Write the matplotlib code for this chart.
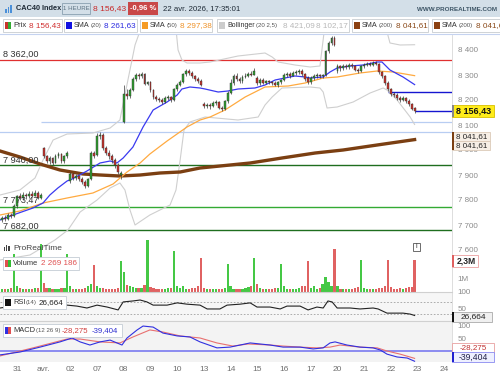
import numpy as np
import matplotlib
matplotlib.use('Agg')
import matplotlib.pyplot as plt
from matplotlib.patches import Rectangle

plt.rcParams['font.family'] = ['Liberation Sans', 'DejaVu Sans']

# hourly candles, 30 mars (end) -> 22 avr. 2026
opens = [7722, 7730, 7726, 7742, 7738,
         7775, 7815, 7808, 7822, 7815, 7825, 7818, 7830, 7810,
         8008, 7975, 7955, 7968, 7950, 7978, 7985, 7955, 7975,
         7875, 7905, 7890, 7898, 7885, 7872, 7858, 7885, 7990,
         7980, 8055, 8062, 8010, 7990, 7975, 7960, 7940, 7900,
         8112, 8225, 8215, 8240, 8285, 8300, 8295, 8305, 8265,
         8272, 8240, 8212, 8205, 8200, 8192, 8210, 8212, 8200,
         8245, 8262, 8272, 8305, 8318, 8310, 8295, 8285, 8278,
         8185, 8178, 8182, 8175, 8188, 8192, 8170, 8165, 8195,
         8228, 8270, 8295, 8285, 8275, 8292, 8298, 8305, 8302,
         8290, 8268, 8282, 8270, 8276, 8272, 8268, 8262, 8272,
         8282, 8300, 8305, 8298, 8308, 8312, 8318, 8305, 8288,
         8272, 8288, 8295, 8300, 8296, 8300, 8395, 8428, 8450,
         8318, 8335, 8328, 8338, 8332, 8340, 8335, 8322, 8318,
         8335, 8340, 8345, 8342, 8350, 8346, 8312, 8295, 8270,
         8245, 8225, 8222, 8210, 8200, 8210, 8198, 8185, 8168]
closes = [7730, 7726, 7742, 7738, 7775,
          7815, 7808, 7822, 7815, 7825, 7818, 7830, 7810, 7822,
          7975, 7955, 7968, 7950, 7978, 7985, 7955, 7975, 7990,
          7905, 7890, 7898, 7885, 7872, 7858, 7885, 7990, 7978,
          8055, 8060, 8010, 7990, 7975, 7960, 7940, 7912, 7908,
          8225, 8215, 8240, 8285, 8300, 8295, 8305, 8265, 8272,
          8240, 8212, 8205, 8200, 8192, 8210, 8212, 8200, 8245,
          8262, 8272, 8305, 8318, 8310, 8295, 8285, 8278, 8262,
          8178, 8182, 8175, 8188, 8192, 8170, 8165, 8195, 8228,
          8270, 8295, 8285, 8275, 8292, 8298, 8305, 8302, 8318,
          8268, 8282, 8270, 8276, 8272, 8268, 8262, 8272, 8282,
          8300, 8305, 8298, 8308, 8312, 8318, 8305, 8285, 8272,
          8288, 8295, 8300, 8296, 8300, 8395, 8428, 8448, 8422,
          8335, 8328, 8338, 8332, 8340, 8335, 8322, 8318, 8335,
          8340, 8345, 8342, 8350, 8346, 8312, 8295, 8270, 8245,
          8225, 8222, 8210, 8200, 8210, 8198, 8185, 8165, 8156.43]
highs = [7738, 7740, 7748, 7750, 7785,
         7822, 7830, 7832, 7830, 7835, 7838, 7842, 7835, 7828,
         8012, 7982, 7975, 7972, 7985, 7992, 7990, 7982, 7998,
         7912, 7910, 7905, 7902, 7892, 7880, 7890, 7995, 7998,
         8068, 8072, 8068, 8018, 8000, 7985, 7968, 7948, 7915,
         8262, 8245, 8250, 8292, 8310, 8310, 8312, 8310, 8278,
         8275, 8245, 8220, 8212, 8208, 8215, 8220, 8216, 8250,
         8270, 8280, 8310, 8325, 8326, 8318, 8300, 8292, 8285,
         8192, 8190, 8188, 8195, 8200, 8196, 8178, 8200, 8235,
         8285, 8305, 8308, 8292, 8300, 8308, 8312, 8318, 8330,
         8295, 8288, 8290, 8282, 8282, 8278, 8275, 8278, 8286,
         8310, 8312, 8312, 8315, 8320, 8326, 8324, 8310, 8295,
         8295, 8305, 8308, 8306, 8305, 8400, 8436, 8456, 8455,
         8345, 8342, 8345, 8344, 8348, 8350, 8342, 8330, 8340,
         8350, 8352, 8352, 8358, 8358, 8350, 8318, 8300, 8275,
         8250, 8232, 8228, 8215, 8216, 8214, 8205, 8190, 8172]
lows = [7712, 7716, 7720, 7730, 7734,
        7770, 7800, 7800, 7805, 7810, 7812, 7815, 7805, 7805,
        7968, 7948, 7945, 7940, 7948, 7970, 7948, 7950, 7970,
        7868, 7882, 7880, 7876, 7865, 7850, 7852, 7880, 7970,
        7975, 8045, 8000, 7980, 7965, 7950, 7928, 7905, 7885,
        8108, 8205, 8208, 8235, 8278, 8285, 8288, 8260, 8260,
        8232, 8205, 8198, 8192, 8185, 8188, 8202, 8192, 8195,
        8235, 8255, 8268, 8298, 8302, 8288, 8278, 8268, 8258,
        8168, 8170, 8166, 8172, 8180, 8164, 8158, 8160, 8190,
        8225, 8262, 8278, 8268, 8270, 8288, 8292, 8296, 8300,
        8262, 8262, 8265, 8266, 8265, 8262, 8255, 8252, 8266,
        8278, 8292, 8290, 8295, 8302, 8306, 8298, 8278, 8265,
        8265, 8282, 8288, 8288, 8290, 8296, 8388, 8420, 8418,
        8308, 8318, 8322, 8325, 8326, 8328, 8315, 8310, 8312,
        8328, 8335, 8336, 8338, 8340, 8305, 8288, 8262, 8238,
        8215, 8212, 8200, 8192, 8195, 8190, 8178, 8160, 8150]
# volume in millions
volumes = [0.22, 0.18, 0.25, 0.30, 2.70,
           0.45, 0.30, 0.20, 0.18, 0.22, 0.20, 0.28, 0.30, 3.40,
           0.65, 0.30, 0.28, 0.22, 0.18, 0.25, 0.30, 0.32, 2.70,
           0.40, 0.25, 0.22, 0.20, 0.25, 0.30, 0.45, 0.55, 1.90,
           0.45, 0.30, 0.28, 0.22, 0.20, 0.25, 0.22, 0.28, 2.20,
           1.40, 0.50, 0.40, 0.35, 0.30, 0.28, 0.32, 0.50, 3.75,
           0.36, 0.28, 0.20, 0.18, 0.22, 0.20, 0.30, 0.28, 2.90,
           0.40, 0.30, 0.45, 0.22, 0.20, 0.28, 0.30, 0.40, 2.40,
           0.30, 0.22, 0.20, 0.18, 0.22, 0.25, 0.20, 0.30, 2.00,
           0.40, 0.25, 0.22, 0.20, 0.25, 0.28, 0.35, 0.42, 2.45,
           0.55, 0.28, 0.22, 0.20, 0.18, 0.22, 0.30, 0.28, 2.00,
           0.40, 0.25, 0.22, 0.20, 0.25, 0.28, 0.40, 0.42, 2.25,
           0.30, 0.40, 0.25, 0.30, 0.60, 1.05, 0.70, 0.40, 3.10,
           0.42, 0.25, 0.20, 0.18, 0.22, 0.25, 0.30, 0.35, 2.30,
           0.30, 0.22, 0.20, 0.18, 0.25, 0.28, 0.30, 0.42, 2.30,
           0.35, 0.25, 0.22, 0.30, 0.25, 0.30, 0.35, 0.33, 2.27]

day_labels = ['31', 'avr.', '02', '07', '08', '09', '10', '13', '14',
              '15', '16', '17', '20', '21', '22', '23', '24']
day_pos = [5 + 9 * k for k in range(len(day_labels))]

# indicator lines (candle index, value)
sma20_x = [-0.7, 3.7, 10.4, 13.8, 16.1, 18.8, 21.9, 23.6, 28.6, 33.0, 36.4, 38.7, 40.8, 44.1, 47.5,
           50.9, 55.6, 59.0, 60.6, 63.3, 66.7, 68.4, 72.8, 76.1, 79.5, 85.2, 88.6, 92.0, 95.3,
           98.7, 102.1, 103.8, 108.2, 110.5, 112.9, 117.3, 121.6, 126.4, 128.0, 130.7, 135.1, 139]
sma20_y = [7720, 7740, 7768, 7788, 7820, 7848, 7876, 7884, 7916, 7948, 7956, 7948, 7968, 8012, 8092,
           8160, 8192, 8220, 8244, 8252, 8248, 8244, 8232, 8236, 8244, 8248, 8260, 8280, 8288,
           8296, 8292, 8288, 8292, 8312, 8328, 8336, 8340, 8352, 8352, 8320, 8292, 8261.63]
sma50_x = [-0.7, 6.0, 13.8, 21.9, 30.6, 37.4, 42.1, 46.5, 49.8, 55.6, 62.3, 66.7, 70.1, 75.1,
           81.9, 88.6, 96.4, 102.1, 108.2, 112.9, 120.6, 126.4, 131.8, 139]
sma50_y = [7740, 7756, 7788, 7808, 7828, 7864, 7912, 7948, 7984, 8036, 8092, 8120, 8132, 8160,
           8212, 8252, 8256, 8268, 8288, 8292, 8308, 8316, 8312, 8297.38]
sma200_x = [-0.7, 6.0, 12.8, 19.5, 27.3, 33.0, 39.7, 46.5, 53.2, 60.0, 66.7, 83.6, 94.3, 105.5,
            114.9, 126.4, 139]
sma200_y = [7996, 7972, 7944, 7920, 7904, 7900, 7896, 7900, 7908, 7912, 7928, 7948, 7968, 7988,
            8000, 8020, 8041.61]
boll_up_x = [-0.7, 6.0, 11.1, 13.8, 17.2, 21.9, 30.6, 36.4, 39.7, 42.4, 44.8, 47.2, 53.2, 58.3,
             59.3, 60.6, 62.3, 66.7, 70.1, 79.5, 88.6, 91.0, 93.0, 98.7, 103.8, 107.1, 108.8,
             113.9, 124.0, 129.1, 130.7, 134.1, 139]
boll_up_y = [7820, 7840, 7888, 7960, 8040, 8064, 8068, 8088, 8120, 8280, 8420, 8500, 8540, 8520,
             8400, 8360, 8348, 8348, 8352, 8376, 8388, 8372, 8352, 8340, 8332, 8336, 8500,
             8560, 8560, 8500, 8428, 8420, 8421.09]
boll_lo_x = [-0.7, 9.4, 17.8, 22.2, 26.3, 32.0, 36.4, 39.7, 41.4, 43.1, 44.8, 49.8, 56.6, 58.6,
             60.0, 61.3, 63.3, 68.4, 79.5, 86.3, 88.6, 91.0, 94.3, 103.8, 107.1, 108.2, 109.5,
             112.9, 118.3, 124.0, 128.4, 129.7, 133.1, 137.5, 139]
boll_lo_y = [7560, 7580, 7640, 7680, 7752, 7800, 7848, 7868, 7840, 7760, 7700, 7740, 7780, 7840,
             7960, 8080, 8112, 8132, 8120, 8132, 8180, 8212, 8248, 8252, 8248, 8232, 8168,
             8172, 8192, 8228, 8248, 8240, 8200, 8132, 8102.17]
rsi_x = [-0.7, 6.0, 12.8, 21.9, 25.2, 28.6, 32.0, 35.4, 39.1, 40.8, 44.1, 46.5, 48.8, 50.9, 55.6,
         59.0, 62.3, 66.7, 69.1, 73.4, 75.8, 80.2, 83.6, 85.9, 90.3, 93.7, 96.0, 100.4, 103.1,
         106.1, 108.2, 109.8, 111.2, 112.9, 117.3, 120.6, 125.0, 126.7, 129.7, 133.1, 135.1,
         137.5, 139]
rsi_y = [50, 59, 66, 59, 56, 50, 59, 53, 44, 69, 72, 75, 69, 59, 59,
         66, 62, 59, 47, 47, 59, 62, 66, 53, 53, 47, 56, 56, 44,
         53, 50, 72, 69, 50, 50, 47, 50, 47, 34, 34, 34,
         31, 26.664]
macd_x = [-0.7, 6.0, 12.8, 19.5, 23.6, 26.3, 29.6, 33.0, 36.4, 40.4, 42.1, 45.5, 47.5, 50.9, 54.2,
          59.0, 63.3, 66.7, 72.4, 76.8, 80.2, 83.6, 90.3, 94.7, 100.4, 104.8, 108.2, 110.5,
          112.2, 116.2, 120.6, 125.0, 127.4, 129.7, 133.1, 136.5, 139]
macd_y = [-15, -4, 15, 35, 50, 35, 23, 35, 42, 23, 50, 81, 96, 92, 69,
          58, 54, 35, 12, 15, 23, 31, 23, 15, 15, 8, 12, 31,
          35, 23, 15, 12, 4, -12, -23, -27, -39.404]
signal_x = [-0.7, 10.4, 21.9, 26.3, 33.0, 39.7, 44.1, 49.8, 54.2, 60.0, 66.7, 72.4, 77.8, 82.9,
            90.3, 94.7, 100.4, 106.1, 110.5, 113.9, 120.6, 126.4, 129.7, 134.1, 139]
signal_y = [-19, 12, 46, 46, 35, 31, 54, 81, 73, 58, 50, 31, 19, 27,
            23, 19, 15, 12, 15, 23, 15, 12, 0, -12, -28.275]

W, H = 500, 375
GREEN = '#2f9e2f'
RED = '#c8322c'


def px_axes(fig, x0, y0, x1, y1):
    return fig.add_axes([x0 / W, 1 - y1 / H, (x1 - x0) / W, (y1 - y0) / H])


def box(fig, x0, y0, x1, y1, fc='white', ec='#c8ccd0', lw=0.6):
    fig.add_artist(Rectangle((x0 / W, 1 - y1 / H), (x1 - x0) / W, (y1 - y0) / H,
                             transform=fig.transFigure, fc=fc, ec=ec, lw=lw))


def txt(fig, x, y, s, size=5.9, color='#333333', **kw):
    fig.text(x / W, 1 - y / H, s, size=size, color=color, va='center', **kw)


def clean(ax, bg):
    ax.set_facecolor(bg)
    for s in ax.spines.values():
        s.set_visible(False)
    ax.spines['right'].set_visible(True)
    ax.spines['right'].set_color('#d8d8d8')
    ax.spines['right'].set_linewidth(0.6)
    ax.yaxis.tick_right()
    ax.tick_params(axis='y', length=0, labelsize=5.8, labelcolor='#8a8a8a', pad=4)
    ax.tick_params(axis='x', length=0)
    ax.set_xlim(-0.7, 151.6)


if __name__ == "__main__":
    fig = plt.figure(figsize=(W / 100, H / 100), dpi=100)
    o = np.array(opens, dtype=float)
    c = np.array(closes, dtype=float)
    hi = np.array(highs, dtype=float)
    lo = np.array(lows, dtype=float)
    idx = np.arange(len(c))
    up = c >= o

    # ---- price panel
    ax = px_axes(fig, 0, 35, 452, 292)
    clean(ax, 'white')
    ax.set_ylim(7432, 8460)
    ticks = [7600, 7700, 7800, 7900, 8000, 8100, 8200, 8300, 8400]
    ax.set_yticks(ticks)
    ax.set_yticklabels([f'{t:,}'.replace(',', ' ') for t in ticks])
    ax.set_xticks([])

    # horizontal levels
    ax.axhline(8362, color='#e03030', lw=0.9, zorder=1)
    ax.axhline(8072, color='#b8cdf2', lw=0.9, zorder=1)
    ax.hlines(8112, 13, 151.6, color='#b8cdf2', lw=0.9, zorder=1)
    ax.axhline(7940, color='#1f6e1f', lw=1.0, zorder=1)
    ax.axhline(7773.47, color='#33aa33', lw=1.0, zorder=1)
    ax.axhline(7682, color='#1f6e1f', lw=1.0, zorder=1)
    ax.hlines(8232, 130, 151.6, color='#1515d0', lw=1.0, zorder=1)
    ax.hlines(8156.43, 139, 151.6, color='#1515d0', lw=1.0, zorder=1)

    # volume overlay
    axv = px_axes(fig, 0, 35, 452, 292)
    axv.patch.set_visible(False)
    for s in axv.spines.values():
        s.set_visible(False)
    axv.set_xlim(-0.7, 151.6)
    axv.set_ylim(0, 18.36)
    axv.yaxis.tick_right()
    axv.set_yticks([1])
    axv.set_yticklabels(['1M'])
    axv.tick_params(axis='y', length=0, labelsize=5.8, labelcolor='#8a8a8a', pad=4)
    axv.set_xticks([])
    axv.bar(idx, volumes, width=0.75, color=np.where(up, '#45c845', '#e06262'), lw=0)

    # indicators
    ax.plot(boll_up_x, boll_up_y, color='#cfcfcf', lw=0.8, zorder=2)
    ax.plot(boll_lo_x, boll_lo_y, color='#cfcfcf', lw=0.8, zorder=2)
    ax.plot(sma200_x, sma200_y, color='#7b3f12', lw=2.4, zorder=2)
    ax.plot(sma50_x, sma50_y, color='#ffaa40', lw=0.9, zorder=3)
    ax.plot(sma20_x, sma20_y, color='#3a3af0', lw=0.9, zorder=3)

    # candles
    ax.vlines(idx, lo, hi, color='#3a3a3a', lw=0.5, zorder=4)
    body = np.maximum(np.abs(c - o), 2)
    ax.bar(idx, body, bottom=np.minimum(o, c), width=0.62,
           color=np.where(up, GREEN, RED), edgecolor='#303030', lw=0.3, zorder=5)

    # ---- RSI panel
    axr = px_axes(fig, 0, 292, 452, 321)
    clean(axr, '#f6f6f6')
    axr.spines['top'].set_visible(True)
    axr.spines['top'].set_color('#d0d0d0')
    axr.set_ylim(9.4, 100)
    axr.set_yticks([50, 100])
    axr.set_xticks([])
    for lvl in (70, 30):
        axr.axhline(lvl, color='#a0a0a0', lw=0.6, ls=(0, (2, 2)))
    axr.plot(rsi_x, rsi_y, color='#222222', lw=0.8)

    # ---- MACD panel
    axm = px_axes(fig, 0, 321, 452, 362)
    clean(axm, '#f3f3f3')
    axm.spines['top'].set_visible(True)
    axm.spines['top'].set_color('#d0d0d0')
    axm.set_ylim(-42.3, 115.4)
    axm.set_yticks([50, 100])
    axm.axhline(0, color='#8c8cf0', lw=1.4)
    axm.plot(signal_x, signal_y, color='#e87070', lw=0.8)
    axm.plot(macd_x, macd_y, color='#3030e0', lw=0.8)
    axm.set_xticks(day_pos)
    axm.set_xticklabels(day_labels)
    axm.tick_params(axis='x', labelsize=6, labelcolor='#707070', pad=3)

    # ---- header
    box(fig, 0, 0, 500, 17, fc='#d3dfe8', ec='none')
    for k, hgt in enumerate([4, 6, 8]):
        box(fig, 5 + k * 2.5, 13 - hgt, 6.5 + k * 2.5, 13, fc='#4a90d9', ec='none')
    txt(fig, 16, 8.5, 'CAC40 Index', size=5.3, color='#1e2a36', weight='bold')
    box(fig, 62, 3, 90, 14, fc='none', ec='#8aa0b0')
    txt(fig, 76, 8.5, '1 HEURE', size=4.4, color='#5a7080', ha='center')
    txt(fig, 93, 8.5, '8 156,43', size=6.1, color='#c82828')
    box(fig, 128, 2, 158, 15, fc='#c94848', ec='none')
    txt(fig, 143, 8.5, '-0,96 %', size=5.5, color='white', weight='bold', ha='center')
    txt(fig, 163, 8.5, '22 avr. 2026, 17:35:01', size=5.6, color='#1e2a36')
    txt(fig, 497, 9.5, 'WWW.PROREALTIME.COM', size=4.5, color='#3d5566', weight='bold', ha='right')

    # legend row
    fig.add_artist(plt.Line2D([0, 1], [1 - 34 / H] * 2, transform=fig.transFigure,
                              color='#c5d3f0', lw=0.8))
    box(fig, 3, 19, 62, 32)
    box(fig, 5, 22, 8, 29, fc=RED, ec='none')
    box(fig, 8, 22, 11, 29, fc='#33aa33', ec='none')
    txt(fig, 13, 25.5, 'Prix', size=5.5, color='#333333')
    txt(fig, 29, 25.5, '8 156,43', color='#d03030')

    legend = [(64, 137, '#1010e0', '(20)', '8 261,63', '#2a2ae0', 40),
              (140, 212, '#f59b25', '(50)', '8 297,38', '#ef9228', 40),
              (352, 428, '#8b4010', '(200)', '8 041,61', '#8b4a1a', 44),
              (432, 505, '#8b4010', '(200)', '8 041,61', '#8b4a1a', 44)]
    for x0, x1, sq, par, val, vc, off in legend:
        box(fig, x0, 19, x1, 32)
        box(fig, x0 + 2, 22, x0 + 8, 29, fc=sq, ec='none')
        txt(fig, x0 + 10, 25.5, 'SMA', size=5.2, color='#333333')
        txt(fig, x0 + 27, 25.5, par, size=4.4, color='#555555')
        txt(fig, x0 + off, 25.5, val, color=vc)
    box(fig, 217, 19, 349, 32)
    box(fig, 219, 22, 225, 29, fc='#cccccc', ec='none')
    txt(fig, 227, 25.5, 'Bollinger', size=5.0, color='#333333')
    txt(fig, 256, 25.5, '(20 2,5)', size=4.4, color='#555555')
    txt(fig, 283, 25.5, '8 421,09', color='#b8b8b8')
    txt(fig, 316, 25.5, '8 102,17', color='#b8b8b8')

    # level labels on the left
    for yy, s in [(54, '8 362,00'), (160, '7 940,00'), (200, '7 773,47'), (226, '7 682,00')]:
        txt(fig, 3, yy, s, size=6.6, color='#333333')

    # right-side value boxes
    box(fig, 452, 105, 494, 117, fc='#ffec1a', ec='#d8c000')
    box(fig, 452, 105, 454, 117, fc='#888888', ec='none')
    txt(fig, 474, 111, '8 156,43', size=6.5, color='#111111', weight='bold', ha='center')
    for yy in (132, 141):
        box(fig, 452, yy, 490, yy + 9, fc='#f7efe6', ec='#dccab8')
        txt(fig, 472, yy + 4.5, '8 041,61', size=5.8, color='#222222', ha='center')
    box(fig, 452, 132, 454, 150, fc='#7b3f12', ec='none')

    box(fig, 452, 255, 478, 267, fc='white', ec='#eaa0a0')
    box(fig, 452, 255, 454, 267, fc='#e06060', ec='none')
    txt(fig, 466, 261, '2,3M', size=6.2, color='#222222', weight='bold', ha='center')
    box(fig, 452, 311.5, 492, 322, fc='#f0f0f0', ec='#aaaaaa')
    box(fig, 452, 311.5, 454, 322, fc='#111111', ec='none')
    txt(fig, 473, 316.8, '26,664', size=6.0, color='#222222', ha='center')
    box(fig, 452, 343, 494, 353, fc='white', ec='#e8a0a0')
    txt(fig, 473, 348, '-28,275', size=5.8, color='#c03030', ha='center')
    box(fig, 452, 352, 494, 362, fc='#eef0ff', ec='#8a8af0')
    box(fig, 452, 352, 454, 362, fc='#2020d0', ec='none')
    txt(fig, 473, 357, '-39,404', size=6.2, color='#22224a', ha='center')

    # watermark + sub legends
    for k, hgt in enumerate([4, 6, 5]):
        box(fig, 4 + k * 2.2, 251 - hgt, 5.2 + k * 2.2, 251, fc='#444444', ec='none')
    txt(fig, 13, 248, 'ProRealTime', size=6.0, color='#444444')
    box(fig, 413, 243, 420, 251, fc='white', ec='#555555')
    txt(fig, 416.5, 247, 'i', size=5, color='#333333', ha='center')

    box(fig, 3, 257, 79, 270, ec='#c4ccd4')
    box(fig, 5, 260, 8, 267, fc='#e05050', ec='none')
    box(fig, 8, 260, 11, 267, fc='#33bb33', ec='none')
    txt(fig, 13, 263.5, 'Volume', size=5.4, color='#333333')
    txt(fig, 41, 263.5, '2 269 186', size=5.8, color='#e05050')

    box(fig, 3, 296, 66, 309, ec='#c4ccd4')
    box(fig, 5, 299, 11, 306, fc='#111111', ec='none')
    txt(fig, 13, 302.5, 'RSI', size=5.4, color='#333333')
    txt(fig, 26, 302.5, '(14)', size=4.4, color='#555555')
    txt(fig, 39, 302.5, '26,664', size=5.8, color='#222222')

    box(fig, 3, 324, 122, 337, ec='#c4ccd4')
    box(fig, 5, 327, 8, 334, fc='#3030e0', ec='none')
    box(fig, 8, 327, 11, 334, fc='#e05050', ec='none')
    txt(fig, 13, 330.5, 'MACD', size=5.4, color='#333333')
    txt(fig, 36, 330.5, '(12 26 9)', size=4.4, color='#555555')
    txt(fig, 62, 330.5, '-28,275', size=5.6, color='#d04040')
    txt(fig, 92, 330.5, '-39,404', size=5.6, color='#3030d0')

    fig.savefig('out.png', dpi=100)
